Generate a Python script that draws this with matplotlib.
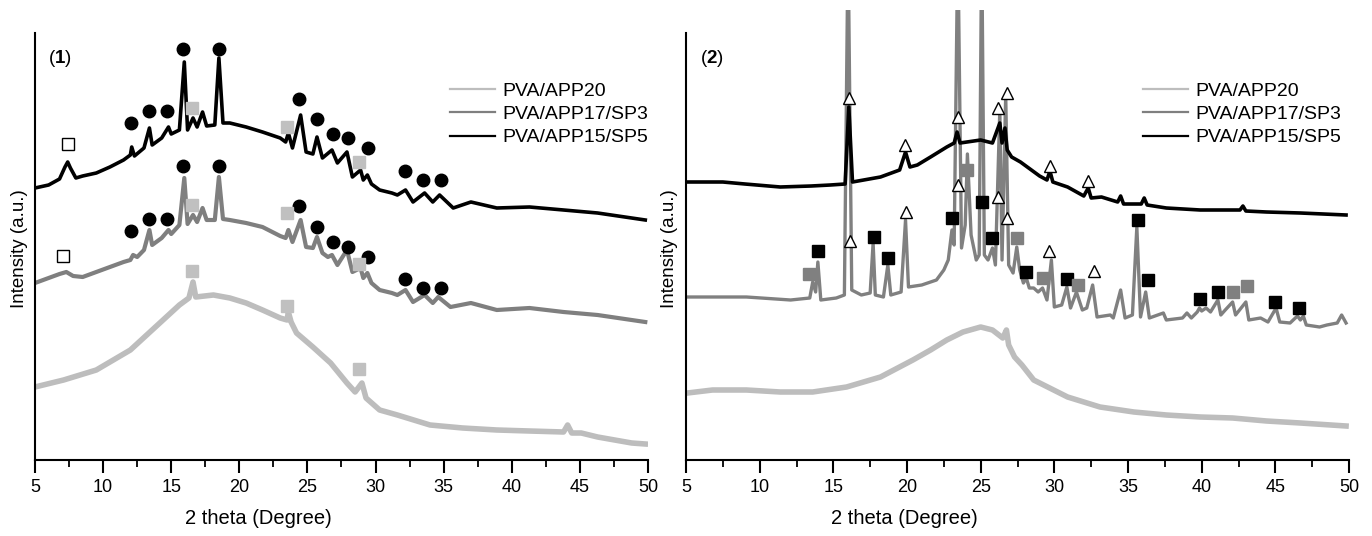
import matplotlib
matplotlib.use("Agg")
import matplotlib.pyplot as plt
from matplotlib.lines import Line2D

plt.rcParams['font.family'] = ['Liberation Sans', 'DejaVu Sans']
plt.rcParams['mathtext.fontset'] = 'custom'
plt.rcParams['mathtext.rm'] = 'Liberation Sans'
plt.rcParams['mathtext.bf'] = 'Liberation Sans:bold'

labels = ['PVA/APP20', 'PVA/APP17/SP3', 'PVA/APP15/SP5']
colors = ['#bdbdbd', '#7f7f7f', '#000000']

# ---------------- panel (1) ----------------
l_app20_x = [5.0, 7.1, 9.5, 12.0, 13.2, 14.4, 15.6, 16.3, 16.6, 16.8, 18.1, 19.3, 20.5, 21.7,
             23.0, 23.5, 23.6, 23.8, 24.2, 25.4, 26.7, 27.9, 28.5, 29.0, 29.3, 30.3, 31.6,
             34.0, 36.4, 38.9, 41.3, 43.8, 44.1, 44.4, 45.1, 46.3, 48.8, 49.8]
l_app20_y = [73, 80, 90, 110, 125, 140, 155, 162, 178, 163, 165, 162, 157, 150,
             142, 140, 148, 138, 127, 113, 97, 77, 68, 77, 62, 50, 45,
             35, 32, 30, 29, 28, 35, 27, 27, 23, 17, 16]

l_sp3_x = [5.0, 6.0, 6.8, 7.3, 7.8, 8.5, 9.5, 10.5, 11.5, 12.0, 12.2, 12.5, 13.0, 13.4, 13.6,
           14.3, 14.8, 15.0, 15.6, 15.96, 16.2, 16.6, 16.9, 17.3, 17.6, 18.2, 18.5, 18.8,
           19.3, 20.5, 21.7, 23.0, 23.4, 23.6, 23.9, 24.5, 24.9, 25.4, 25.7, 26.1, 26.5,
           26.8, 27.2, 27.9, 28.3, 28.9, 29.1, 29.4, 29.7, 30.3, 31.2, 31.6, 32.2, 32.75,
           33.6, 34.2, 34.6, 35.5, 37.0, 38.9, 41.3, 43.8, 46.3, 49.8]
l_sp3_y = [177, 182, 186, 188, 184, 183, 188, 193, 198, 200, 205, 203, 210, 230, 215,
           222, 230, 226, 235, 282, 236, 245, 238, 252, 240, 240, 283, 241,
           240, 237, 233, 224, 222, 230, 218, 240, 213, 212, 223, 207, 203,
           205, 195, 210, 188, 192, 182, 187, 177, 170, 167, 165, 170, 158,
           165, 157, 163, 153, 157, 150, 152, 148, 145, 138]

l_sp5_x = [5.0, 6.0, 6.8, 7.2, 7.4, 7.6, 8.0, 8.5, 9.5, 10.5, 11.5, 12.0, 12.1, 12.3, 13.0,
           13.4, 13.6, 14.3, 14.8, 15.0, 15.6, 15.96, 16.2, 16.6, 16.9, 17.3, 17.6, 18.2,
           18.5, 18.8, 19.3, 20.5, 21.7, 23.0, 23.4, 23.6, 23.9, 24.5, 24.9, 25.4, 25.7,
           26.1, 26.8, 27.2, 27.9, 28.3, 28.9, 29.1, 29.4, 29.7, 30.3, 31.2, 31.6, 32.2,
           32.75, 33.6, 34.2, 34.7, 35.7, 37.0, 38.9, 41.3, 43.8, 46.3, 49.8]
l_sp5_y = [272, 275, 281, 293, 298, 292, 282, 284, 287, 293, 300, 305, 313, 304, 312,
           332, 315, 322, 333, 326, 330, 398, 330, 342, 333, 348, 334, 335,
           402, 337, 337, 333, 328, 322, 318, 327, 312, 345, 308, 306, 323,
           302, 310, 297, 308, 283, 290, 280, 285, 276, 270, 267, 265, 270,
           258, 267, 258, 265, 252, 258, 252, 253, 250, 247, 240]

l_circ_x = [12.05, 13.37, 14.69, 15.87, 18.51, 24.35, 25.70, 26.88, 27.98, 29.45, 32.17, 33.49, 34.81]
l_circ_top_y = [337, 349, 349, 411, 411, 361, 341, 326, 322, 312, 289, 280, 280]
l_circ_mid_y = [229, 241, 241, 294, 294, 254, 233, 218, 213, 203, 181, 172, 172]
l_sq_x = [16.55, 23.5, 28.8]
l_sq_top_y = [352, 333, 298]
l_sq_mid_y = [255, 247, 196]
l_sq_bot_y = [189, 154, 91]
l_open_x = [7.42, 7.06]
l_open_y = [316, 204]

# ---------------- panel (2) ----------------
r_app20_x = [5.1, 6.8, 9.1, 11.4, 13.6, 15.9, 18.2, 20.4, 21.6, 22.7, 23.8, 25.0, 25.8,
             26.5, 26.75, 26.9, 27.3, 27.8, 28.6, 30.9, 33.1, 35.4, 37.6, 39.9, 42.1,
             44.4, 46.7, 49.8]
r_app20_y = [67, 70, 70, 68, 68, 73, 83, 100, 110, 120, 128, 133, 130,
             122, 130, 115, 103, 95, 80, 63, 53, 48, 45, 43, 42,
             39, 37, 34]

r_sp3_x = [5.1, 9.1, 12.1, 13.4, 13.6, 13.8, 13.95, 14.15, 15.2, 15.75, 16.0, 16.25, 16.9,
           17.5, 17.7, 17.85, 18.4, 18.7, 18.9, 19.6, 19.9, 20.1, 21.0, 22.0, 22.5, 22.8,
           23.05, 23.2, 23.45, 23.7, 23.95, 24.1, 24.35, 24.7, 24.9, 25.07, 25.25, 25.5,
           25.8, 26.0, 26.3, 26.45, 26.7, 26.9, 27.2, 27.45, 27.65, 27.9, 28.1, 28.3, 28.6,
           28.9, 29.2, 29.5, 29.8, 30.0, 30.5, 30.85, 31.1, 31.5, 31.9, 32.2, 32.6, 32.9,
           33.8, 34.0, 34.5, 34.8, 35.3, 35.6, 35.85, 36.2, 36.45, 37.4, 37.6, 38.7, 39.0,
           39.3, 39.7, 39.85, 40.0, 40.3, 40.6, 41.1, 41.3, 41.6, 42.1, 42.3, 43.0, 43.2,
           44.0, 44.5, 45.05, 45.3, 46.0, 46.5, 46.7, 46.9, 47.1, 48.0, 48.5, 49.2, 49.5,
           49.8]
r_sp3_y = [163, 163, 160, 162, 178, 168, 198, 160, 162, 165, 520, 170, 165,
           167, 217, 165, 163, 195, 165, 168, 240, 173, 175, 180, 190, 200,
           230, 215, 520, 212, 235, 306, 225, 200, 205, 520, 205, 200,
           212, 195, 350, 200, 365, 195, 187, 213, 190, 177, 182, 172, 172,
           168, 172, 160, 200, 153, 155, 173, 152, 168, 150, 152, 175, 143,
           145, 142, 170, 142, 145, 233, 143, 168, 142, 147, 140, 142, 147,
           142, 148, 152, 149, 152, 148, 160, 145, 150, 158, 145, 158, 140,
           142, 138, 152, 138, 137, 144, 140, 144, 135, 133, 135, 137, 145,
           137]

r_sp5_x = [5.1, 7.5, 9.0, 11.4, 13.5, 14.8, 15.8, 16.05, 16.3, 18.2, 19.5, 19.9, 20.2,
           20.7, 21.6, 22.7, 23.2, 23.4, 23.6, 25.0, 25.8, 26.3, 26.45, 26.65, 26.8, 27.1,
           27.7, 29.0, 29.5, 29.7, 29.9, 30.9, 32.0, 32.3, 32.5, 33.2, 34.3, 34.5, 34.7,
           35.9, 36.1, 36.3, 37.6, 39.9, 42.6, 42.8, 43.0, 44.4, 46.7, 49.8]
r_sp5_y = [278, 278, 276, 273, 274, 275, 276, 353, 278, 283, 290, 308, 293,
           295, 303, 313, 317, 328, 317, 320, 317, 337, 317, 332, 310, 303,
           298, 284, 280, 289, 278, 273, 264, 272, 262, 263, 258, 264, 256,
           256, 262, 255, 252, 250, 250, 254, 249, 248, 247, 245]

r_tri_x = [16.07, 19.87, 23.47, 26.18, 26.79, 29.71, 32.29]
r_tri_top_y = [362, 315, 343, 352, 367, 294, 279]
r_tri_mid_x = [16.13, 19.94, 23.47, 26.18, 26.79, 29.64, 32.70]
r_tri_mid_y = [219, 248, 275, 263, 242, 209, 189]
r_bsq_x = [13.96, 17.76, 18.71, 23.06, 25.10, 25.77, 28.08, 30.87, 35.69, 36.36, 39.90, 41.12, 44.99, 46.62]
r_bsq_y = [209, 223, 202, 242, 258, 222, 188, 181, 240, 180, 161, 168, 158, 152]
r_gsq_x = [13.35, 24.08, 27.47, 29.24, 31.61, 42.13, 43.09]
r_gsq_y = [186, 290, 222, 182, 175, 168, 174]

W, H = 1372, 536
fig = plt.figure(figsize=(W / 100, H / 100), dpi=100)
ax1 = fig.add_axes([35 / W, 76 / H, 613 / W, 450 / H])
ax2 = fig.add_axes([686 / W, 76 / H, 663 / W, 450 / H])

ax1.plot(l_app20_x, l_app20_y, color=colors[0], lw=4.0)
ax1.plot(l_sp3_x, l_sp3_y, color=colors[1], lw=3.0)
ax1.plot(l_sp5_x, l_sp5_y, color=colors[2], lw=2.6)

ms_c = 9
ax1.plot(l_circ_x, l_circ_top_y, 'o', color='black', ms=ms_c, ls='none', zorder=5)
ax1.plot(l_circ_x, l_circ_mid_y, 'o', color='black', ms=ms_c, ls='none', zorder=5)
for yy in (l_sq_top_y, l_sq_mid_y, l_sq_bot_y):
    ax1.plot(l_sq_x, yy, 's', color='#c0c0c0', ms=8, ls='none', zorder=5)
ax1.plot(l_open_x, l_open_y, 's', mfc='white', mec='black', mew=1, ms=8, ls='none', zorder=5)

ax2.plot(r_app20_x, r_app20_y, color=colors[0], lw=4.0)
ax2.plot(r_sp3_x, r_sp3_y, color='#808080', lw=2.4)
ax2.plot(r_sp5_x, r_sp5_y, color=colors[2], lw=2.6)

ax2.plot(r_tri_x, r_tri_top_y, '^', mfc='white', mec='black', mew=1, ms=9, ls='none', zorder=5)
ax2.plot(r_tri_mid_x, r_tri_mid_y, '^', mfc='white', mec='black', mew=1, ms=9, ls='none', zorder=5)
ax2.plot(r_bsq_x, r_bsq_y, 's', color='black', ms=8, ls='none', zorder=5)
ax2.plot(r_gsq_x, r_gsq_y, 's', color='#808080', ms=8, ls='none', zorder=5)

handles = [Line2D([], [], color=c, lw=1.6) for c in colors]

for ax, tag, lx, lgx in ((ax1, r'($\mathbf{1}$)', 0.364, 0.677), (ax2, r'($\mathbf{2}$)', 0.329, 0.689)):
    ax.set_xlim(5, 50)
    ax.set_ylim(0, 450)
    ax.set_xticks(range(5, 51, 5))
    ax.set_xticks([x + 2.5 for x in range(5, 50, 5)], minor=True)
    ax.set_yticks([])
    for s in ('top', 'right'):
        ax.spines[s].set_visible(False)
    ax.spines['left'].set_bounds(0, 427)
    ax.spines['left'].set_linewidth(1.5)
    ax.spines['bottom'].set_linewidth(1.5)
    ax.tick_params(axis='x', which='major', length=9, width=1.5, labelsize=13, pad=5, direction='out')
    ax.tick_params(axis='x', which='minor', length=5, width=1.3, direction='out')
    ax.set_xlabel('2 theta (Degree)', fontsize=14.5, va='center')
    ax.xaxis.set_label_coords(lx, -0.129)
    ax.set_ylabel('Intensity (a.u.)', fontsize=13.5, va='center')
    ax.yaxis.set_label_coords(-0.025, 0.47)
    ax.text(0.021, 0.893, tag, transform=ax.transAxes, fontsize=13.5, va='center', ha='left')
    ax.legend(handles, labels, loc='upper left', bbox_to_anchor=(lgx, 0.84), frameon=False,
              fontsize=14, handlelength=2.3, handletextpad=0.4, labelspacing=0.3, borderpad=0,
              borderaxespad=0)

fig.savefig('out.png', dpi=100)
